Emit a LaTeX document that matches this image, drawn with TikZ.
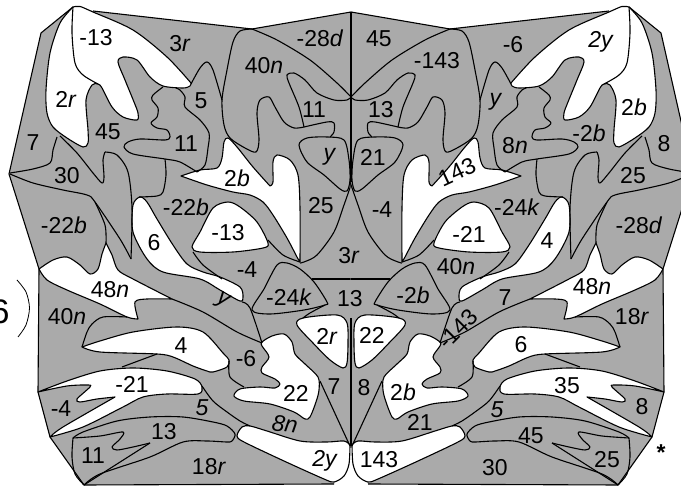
\documentclass[tikz,border=0pt]{standalone}
\usepackage{fontspec}
\setmainfont{Liberation Sans}
\usepackage{xcolor}
\definecolor{plangray}{HTML}{AAAAAA}

\begin{document}
\begin{tikzpicture}[
        x=1pt, y=-1pt,
        edge/.style={black, line width=1.1pt, line join=round},
        hole/.style={edge, fill=white},
        patch/.style={edge, fill=plangray},
        lab/.style={font=\fontsize{23}{23}\selectfont, inner sep=0pt}
    ]
    \useasboundingbox (0,0) rectangle (681,486);

    % grey sheet, left half then its mirror image
    \foreach \sx/\dx in {1/0,-1/702} {
    \begin{scope}[shift={(\dx,0)}, xscale=\sx]
        \fill[plangray] (351.5,12) -- (252,29) -- (93,11) -- (73,7) -- (41,33) -- (9,174) -- (39,269) -- (38,392) -- (50,437) -- (84,485) -- (334,484) -- (351.5,445) -- cycle;
        \draw[edge] (351,12) -- (252,29) -- (93,11) (73,7) -- (41,33) -- (9,174) -- (39,269) -- (38,392) -- (50,437) -- (84,485) -- (334,484);

        % white areas
        \draw[hole] plot[smooth] coordinates {(73,7) (80,6.5) (93,12) (133,30) (167,57) (191,83)}
            -- plot[smooth] coordinates {(191,83) (190,86) (183,88) (163,86) (150,77) (137,60) (123,57) (118,62) (125,80) (134,102) (138,113) (137,120) (123,117) (112,107) (102,88) (98,84) (92,85) (86,100) (88,130) (88,143) (83,147) (67,138) (53,127) (47,113) (46,90) (50,53) (60,23) (73,7)} -- cycle;
        \draw[hole] plot[smooth] coordinates {(181,176) (200,170) (217,168) (222,158) (224,142) (228,138) (237,147) (253,167) (270,186)}
            -- plot[smooth] coordinates {(270,186) (273,182) (273,162) (277,155) (290,160) (298,175) (300,208) (300,262)}
            -- plot[smooth] coordinates {(300,262) (297,257) (287,238) (273,215) (263,202) (250,195) (233,192) (207,185) (181,176)} -- cycle;
        \draw[hole] plot[smooth cycle] coordinates {(192,247) (200,232) (213,208) (228,202) (240,207) (257,222) (268,243) (263,248) (233,252) (200,252)};
        \draw[hole] plot[smooth cycle] coordinates {(140,197) (133,205) (133,232) (147,259) (163,272) (200,279) (220,290) (240,301) (243,297) (240,287) (220,277) (203,272) (187,264) (173,245) (157,219) (147,202)};
        \draw[hole] plot[smooth] coordinates {(39,269) (53,260) (67,257) (80,265) (90,274) (98,269) (102,254) (106,243)}
            -- plot[smooth] coordinates {(106,243) (112,255) (118,270) (133,279) (172,299)}
            -- plot[smooth] coordinates {(172,299) (147,299) (135,302) (138,319)}
            -- plot[smooth] coordinates {(138,319) (127,317) (100,304) (67,290) (47,280) (39,269)} -- cycle;
        \draw[hole] plot[smooth] coordinates {(82,347) (100,341) (133,332) (177,327) (203,332) (223,353) (229,360) (227,367) (213,372) (207,371) (193,366) (173,357) (157,354) (100,352) (82,347)} -- cycle;
        \draw[hole] plot[smooth] coordinates {(38,392) (67,381) (100,371) (133,368) (167,371) (195,379) (202,387) (198,394) (167,394) (143,397) (123,407) (83,427) (50,437)}
            -- plot[smooth] coordinates {(50,437) (63,427) (115,397)}
            -- plot[smooth] coordinates {(115,397) (97,399) (80,402) (77,399) (90,387) (88,385) (67,386) (38,392)} -- cycle;
        \draw[hole] plot[smooth cycle] coordinates {(262,342) (272,336) (284,334) (292,342) (295,354) (305,364) (318,377) (319,390) (316,402) (310,417) (305,419) (294,412) (270,404) (244,401) (234,396) (240,389) (260,387) (275,388) (280,384) (275,379) (262,373) (262,367) (269,357) (262,346)};
        \draw[hole] plot[smooth cycle] coordinates {(297,325) (303,318) (337,315) (347,323) (348,343) (347,363) (343,368) (330,360) (313,343)};
        \draw[hole] plot[smooth] coordinates {(350,445) (349,464) (344,476) (334,482) (324,479) (284,461) (244,442) (237,436) (242,427) (250,426) (267,431) (300,441) (327,442) (344,441) (350,445)} -- cycle;

        % inner patches
        \draw[patch] plot[smooth cycle] coordinates {(299,145) (307,138) (327,137) (344,140) (349,160) (350,180) (347,191) (340,189) (324,175) (307,162)};
        \draw[patch] plot[smooth cycle] coordinates {(252,310) (264,289) (277,265) (287,263) (300,269) (314,282) (327,302) (325,305) (304,310) (270,314)};

        % dividing lines
        \draw[edge] plot[smooth] coordinates {(73,7) (72,33) (75,63) (83,75) (98,84)};
        \draw[edge] plot[smooth] coordinates {(191,84) (200,68) (207,62) (213,70) (222,100)};
        \draw[edge] plot[smooth] coordinates {(252,29) (240,31) (233,42) (227,70) (222,100) (224,125) (230,138) (245,148) (256,152) (259,140) (257,113) (260,100) (269,97) (275,107) (284,122) (294,128) (304,127)};
        \draw[edge] plot[smooth] coordinates {(304,127) (327,122) (334,123) (334,132) (330,137)};
        \draw[edge] plot[smooth] coordinates {(304,127) (299,107) (289,83) (287,75) (294,73) (305,80) (317,93) (334,100) (347,100) (351,97)};
        \draw[edge] plot[smooth] coordinates {(252,29) (277,40) (310,60) (337,83) (351,97)};
        \draw[edge] plot[smooth] coordinates {(163,87) (153,95) (152,100) (158,108) (157,117) (151,123) (157,128) (167,130) (170,137) (165,140) (140,139) (128,142) (124,147) (133,154) (165,159) (180,162) (197,172)};
        \draw[edge] plot[smooth] coordinates {(176,88) (180,90) (185,97) (185,107) (200,120) (209,133) (208,148) (205,165) (197,172)};
        \draw[edge] plot[smooth] coordinates {(165,159) (166,175) (163,192) (157,196) (139,197)};
        \draw[edge] plot[smooth] coordinates {(105,152) (117,155) (128,172) (132,208) (131,259)};
        \draw[edge] plot[smooth] coordinates {(105,152) (103,160) (104,177) (102,183) (93,173) (77,153) (60,136)};
        \draw[edge] plot[smooth] coordinates {(57,137) (53,150) (50,163) (33,169) (10,173)};
        \draw[edge] plot[smooth] coordinates {(10,174) (33,183) (63,190) (87,195) (95,202) (120,239) (131,259)};
        \draw[edge] plot[smooth] coordinates {(95,202) (105,225) (106,243)};
        \draw[edge] plot[smooth] coordinates {(172,299) (203,312) (237,332) (262,343)};
        \draw[edge] plot[smooth] coordinates {(242,302) (250,308) (262,343)};
        \draw[edge] plot[smooth] coordinates {(352,182) (344,205) (334,232) (317,255) (304,262) (300,263)};
        \draw[edge] plot[smooth] coordinates {(268,240) (283,255) (300,262)};
        \draw[edge] plot[smooth] coordinates {(193,252) (203,265) (222,279)};
        \draw[edge] plot[smooth] coordinates {(325,305) (310,313) (303,318)};
        \draw[edge] (312,279) -- (351,279);
        \draw[edge] (320,381) -- (350,446);
        \draw[edge] plot[smooth] coordinates {(229,361) (230,377) (244,387)};
        \draw[edge] plot[smooth] coordinates {(82,347) (87,332) (92,324) (103,317) (127,317)};
        \draw[edge] (157,354) -- (122,367);
        \draw[edge] plot[smooth] coordinates {(202,386) (213,401) (227,412) (240,421) (250,426)};
        \draw[edge] plot[smooth] coordinates {(73,438) (83,432) (117,421) (150,417) (183,417) (213,422) (227,426) (235,434) (232,441) (227,442) (207,441) (183,442) (150,457) (100,474) (84,485)};
        \draw[edge] plot[smooth] coordinates {(73,438) (72,457) (75,474) (84,485)};
        \draw[edge] plot[smooth] coordinates {(73,438) (100,436) (123,432) (120,439) (112,447) (117,450) (133,447) (150,443)};
        \draw[edge] (150,443) -- (117,464) -- (84,485);
    \end{scope}
    }
    \draw[edge] (351,12) -- (351,182);
    \draw[edge] (351,318) -- (351,446);

    % labels, left half
    \node[lab] (la) at (96,38) {-13};
    \node[lab] (lb) at (180,44) {3\textit{r}};
    \node[lab] (lc) at (66,99) {2\textit{r}};
    \node[lab] (ld) at (201,101) {5};
    \node[lab] (le) at (108,132) {45};
    \node[lab] (lf) at (186,144) {11};
    \node[lab] (lg) at (33,143) {7};
    \node[lab] (lh) at (67,176) {30};
    \node[lab] (li) at (64,225) {-22\textit{b}};
    \node[lab] (lj) at (186,207) {-22\textit{b}};
    \node[lab] (lk) at (237,178) {2\textit{b}};
    \node[lab] (ll) at (154,243) {6};
    \node[lab] (lm) at (228,233) {-13};
    \node[lab] (ln) at (321,206) {25};
    \node[lab] (lo) at (247,270) {-4};
    \node[lab] (lp) at (289,297) {-24\textit{k}};
    \node[lab, rotate=-28] (lq) at (223,301) {\textit{y}};
    \node[lab] (lr) at (110,290) {48\textit{n}};
    \node[lab] (ls) at (67,317) {40\textit{n}};
    \node[lab] (lt) at (181,346) {4};
    \node[lab] (lu) at (132,384) {-21};
    \node[lab] (lv) at (61,409) {-4};
    \node[lab] (lw) at (202,408) {\textit{5}};
    \node[lab] (lx) at (164,432) {13};
    \node[lab] (ly) at (93,456) {11};
    \node[lab] (lz) at (209,467) {18\textit{r}};
    \node[lab] (maa) at (246,359) {-6};
    \node[lab] (mab) at (296,393) {22};
    \node[lab] (mac) at (334,387) {7};
    \node[lab, rotate=-8] (mad) at (285,424) {\textit{8n}};
    \node[lab] (mae) at (325,461) {\textit{2y}};
    \node[lab] (maf) at (327,336) {2\textit{r}};
    \node[lab] (mag) at (320,38) {-28\textit{d}};
    \node[lab] (mah) at (264,66) {40\textit{n}};
    \node[lab] (mai) at (314,110) {11};
    \node[lab] (maj) at (330,157) {\textit{y}};
    % labels, middle and right half
    \node[lab] (raa) at (349,256) {3\textit{r}};
    \node[lab] (rab) at (350,299) {13};
    \node[lab] (rac) at (379,39) {45};
    \node[lab] (rad) at (437,61) {-143};
    \node[lab] (rae) at (381,110) {13};
    \node[lab] (raf) at (373,157) {21};
    \node[lab] (rag) at (382,210) {-4};
    \node[lab] (rah) at (413,295) {-2\textit{b}};
    \node[lab] (rai) at (456,267) {40\textit{n}};
    \node[lab] (raj) at (364,388) {8};
    \node[lab] (rak) at (372,335) {22};
    \node[lab] (ral) at (403,392) {2\textit{b}};
    \node[lab] (ram) at (420,422) {21};
    \node[lab] (ran) at (379,460) {143};
    \node[lab, rotate=25] (rao) at (457,172) {143};
    \node[lab, rotate=45] (rap) at (458,329) {-143};
    \node[lab] (raq) at (469,234) {-21};
    \node[lab] (rar) at (517,207) {-24\textit{k}};
    \node[lab] (ras) at (515,146) {8\textit{n}};
    \node[lab] (rat) at (496,102) {\textit{y}};
    \node[lab] (rau) at (513,45) {-6};
    \node[lab] (rav) at (601,42) {\textit{2y}};
    \node[lab] (raw) at (634,107) {2\textit{b}};
    \node[lab] (rax) at (589,133) {-2\textit{b}};
    \node[lab] (ray) at (664,144) {8};
    \node[lab] (raz) at (633,176) {25};
    \node[lab] (rba) at (639,225) {-28\textit{d}};
    \node[lab] (rbb) at (547,241) {4};
    \node[lab] (rbc) at (592,287) {48\textit{n}};
    \node[lab] (rbd) at (632,317) {18\textit{r}};
    \node[lab] (rbe) at (505,298) {7};
    \node[lab] (rbf) at (521,345) {6};
    \node[lab] (rbg) at (567,386) {35};
    \node[lab] (rbh) at (642,407) {8};
    \node[lab] (rbi) at (497,410) {\textit{5}};
    \node[lab] (rbj) at (531,436) {45};
    \node[lab] (rbk) at (607,460) {25};
    \node[lab] (rbl) at (495,468) {30};
    \node[lab] (rbm) at (661,453) {\textbf{*}};
    % clipped bracket at the left
    \node[lab, font=\fontsize{34}{34}\selectfont] (six) at (0,312) {6};
    \draw[black, line width=0.8pt] plot[smooth] coordinates {(17,280) (26,292) (29.5,308) (26,325) (18,337)};
\end{tikzpicture}
\end{document}
